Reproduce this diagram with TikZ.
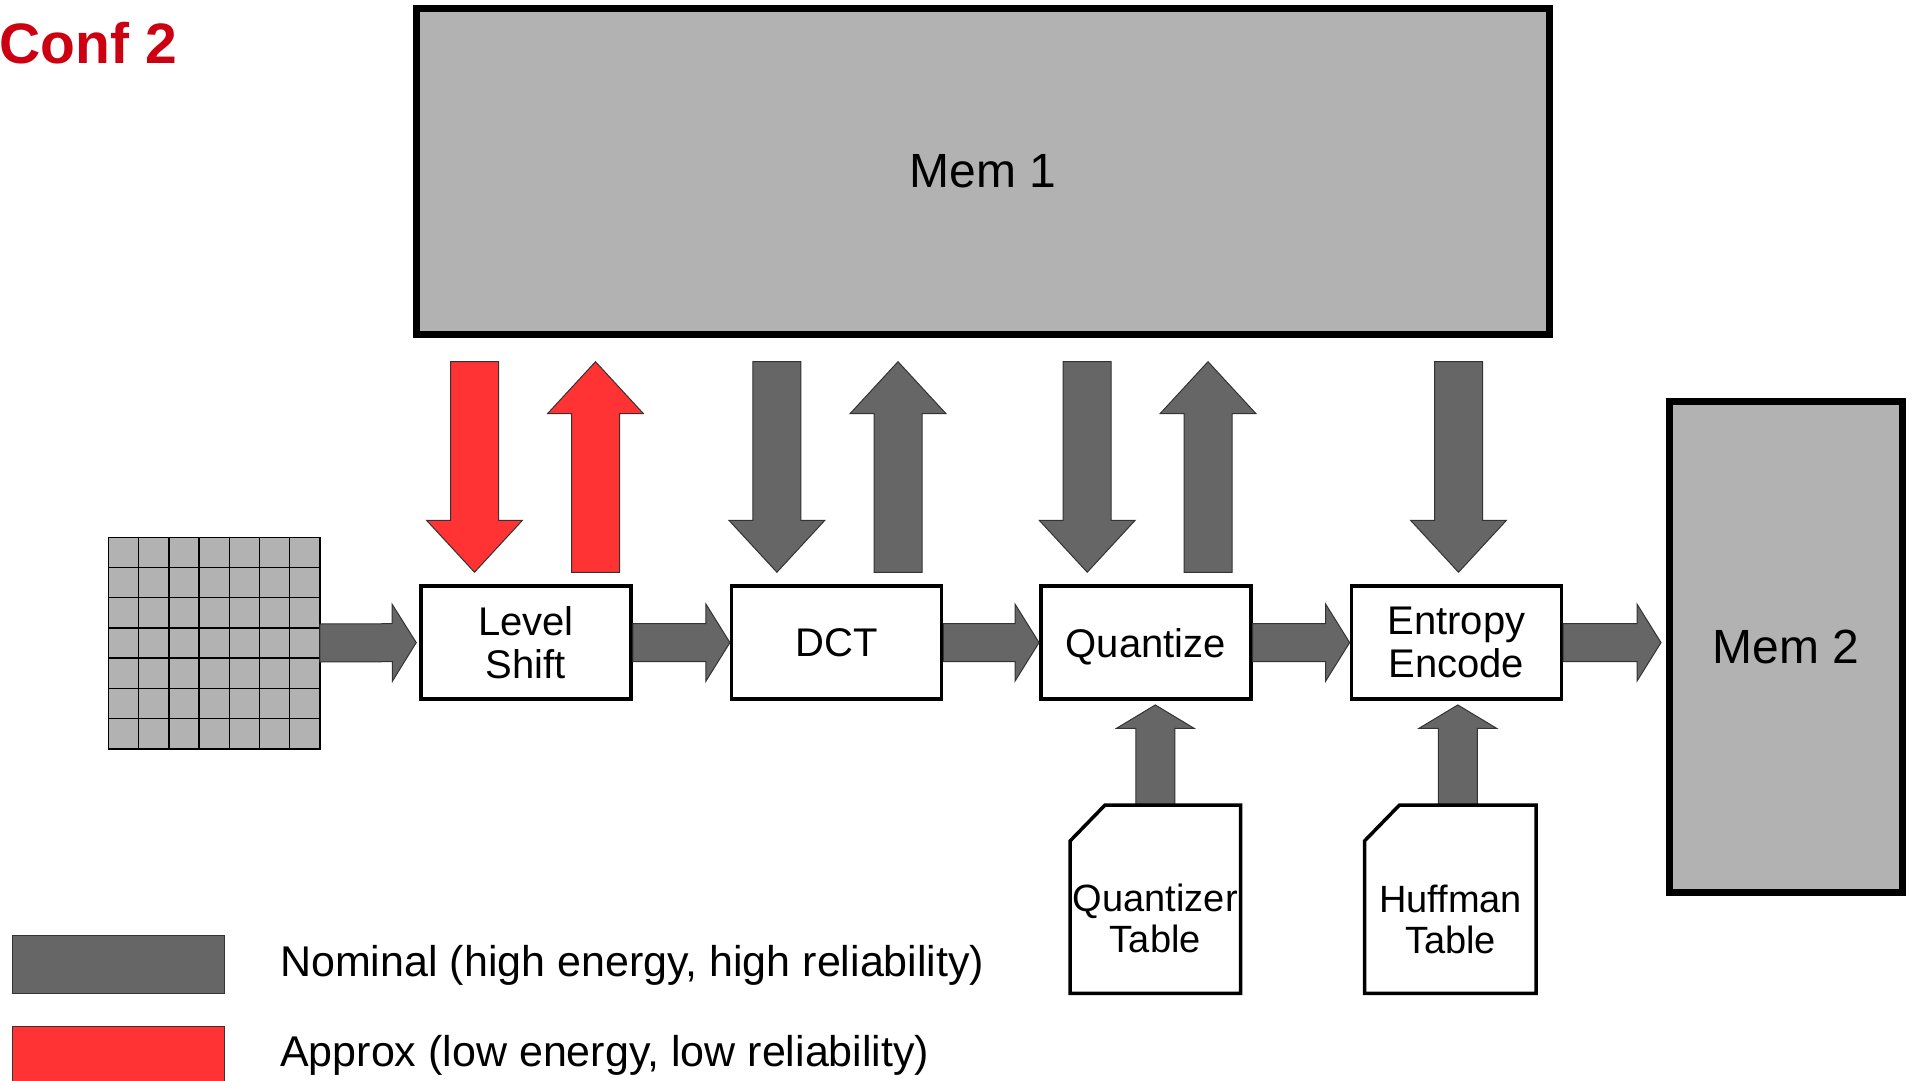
\documentclass[tikz,border=0pt]{standalone}
\usepackage{fontspec}
\setmainfont{Liberation Sans}
\usetikzlibrary{calc}
\definecolor{memgray}{HTML}{B2B2B2}
\definecolor{arrgray}{HTML}{666666}
\definecolor{arrred}{HTML}{FF3333}
\definecolor{confred}{HTML}{CC0011}

% block arrow: #1 style, #2 tail, #3 tip, #4 shaft half width, #5 head half width, #6 head length
\newcommand{\blockarrow}[6]{%
  \coordinate (bH) at ($(#3)!#6!(#2)$);
  \path[#1] ($(#2)!#4!90:(#3)$) -- ($(bH)!#4!90:(#3)$) -- ($(bH)!#5!90:(#3)$) -- (#3)
    -- ($(bH)!#5!-90:(#3)$) -- ($(bH)!#4!-90:(#3)$) -- ($(#2)!#4!-90:(#3)$) -- cycle;}

\tikzset{
  memstyle/.style={draw=black, line width=7pt, fill=memgray, inner sep=0pt,
    font=\fontsize{48}{52}\selectfont},
  procbox/.style={draw=black, line width=3.5pt, fill=white, minimum width=210pt,
    minimum height=113.2pt, inner sep=0pt, align=center, font=\fontsize{40}{43}\selectfont},
  tablebox/.style={draw=none, inner sep=0pt, outer sep=0pt, minimum height=188.3pt},
  tableline/.style={draw=black, line width=3.5pt, fill=white, line join=miter},
  tablelabel/.style={align=center, inner sep=0pt, font=\fontsize{38}{41}\selectfont},
  nomarrow/.style={fill=arrgray, draw=black!80, line width=1pt},
  aprarrow/.style={fill=arrred, draw=black!80, line width=1pt},
  legbox/.style={draw=black!80, line width=1pt, minimum width=211.7pt, minimum height=58.3pt, inner sep=0pt},
  legtext/.style={anchor=base west, inner sep=0pt, font=\fontsize{43}{50}\selectfont},
}

\begin{document}
\begin{tikzpicture}[x=1pt,y=-1pt]
\useasboundingbox (0,0) rectangle (1912,1081);

% title
\node[anchor=base west, inner sep=0pt, text=confred, font=\bfseries\fontsize{57}{60}\selectfont] (conf) at (-0.5,64) {Conf 2};

% memories
\node[memstyle, minimum width=1133.3pt, minimum height=326.3pt] (mem1) at (982.85,171.65) {Mem 1};
\node[memstyle, minimum width=233.5pt, minimum height=490.7pt] (mem2) at (1785.75,647.15) {Mem 2};

% input block grid
\node[fill=memgray, draw=none, minimum size=211.5pt, inner sep=0pt, outer sep=0pt] (grid) at (214.15,643) {};
\foreach \i in {1,...,6} {
  \draw[line width=1.5pt] ($(grid.north west)+(\i*30.214,0)$) -- ($(grid.south west)+(\i*30.214,0)$);
  \draw[line width=1.5pt] ($(grid.north west)+(0,\i*30.214)$) -- ($(grid.north east)+(0,\i*30.214)$);
}
\draw[line width=1.5pt] (grid.north west) rectangle (grid.south east);

% processing boxes
\node[procbox] (ls) at (526,642.6) {Level\\Shift};
\node[procbox] (dct) at (836.7,642.6) {DCT};
\node[procbox, text depth=0pt] (q) at (1145.8,642.6) {Quantize};
\node[procbox] (ee) at (1456.4,642.6) {Entropy\\Encode};

% horizontal pipeline arrows
\coordinate (lsin) at ($(ls.west)+(-3,0)$);
\coordinate (m2in) at ($(mem2.west |- ee.east)+(-4.5,0)$);
\blockarrow{nomarrow}{grid.east}{lsin}{19pt}{38.5pt}{24pt}
\blockarrow{nomarrow}{ls.east}{dct.west}{19pt}{38.5pt}{24pt}
\blockarrow{nomarrow}{dct.east}{q.west}{19pt}{38.5pt}{24pt}
\blockarrow{nomarrow}{q.east}{ee.west}{19pt}{38.5pt}{24pt}
\blockarrow{nomarrow}{ee.east}{m2in}{19pt}{38.5pt}{24pt}

% memory <-> box arrows
\coordinate (lsd-t) at ($(ls.north |- mem1.south)+(-51.5,23.4)$);
\coordinate (lsd-b) at ($(ls.north)+(-51.5,-12)$);
\coordinate (lsu-t) at ($(ls.north |- mem1.south)+(69.5,23.4)$);
\coordinate (lsu-b) at ($(ls.north)+(69.5,-12)$);
\coordinate (dd-t) at ($(dct.north |- mem1.south)+(-59.8,23.4)$);
\coordinate (dd-b) at ($(dct.north)+(-59.8,-12)$);
\coordinate (du-t) at ($(dct.north |- mem1.south)+(61.3,23.4)$);
\coordinate (du-b) at ($(dct.north)+(61.3,-12)$);
\coordinate (qd-t) at ($(q.north |- mem1.south)+(-58.6,23.4)$);
\coordinate (qd-b) at ($(q.north)+(-58.6,-12)$);
\coordinate (qu-t) at ($(q.north |- mem1.south)+(62.2,23.4)$);
\coordinate (qu-b) at ($(q.north)+(62.2,-12)$);
\coordinate (ed-t) at ($(ee.north |- mem1.south)+(2.1,23.4)$);
\coordinate (ed-b) at ($(ee.north)+(2.1,-12)$);

\blockarrow{aprarrow}{lsd-t}{lsd-b}{24pt}{48pt}{52pt}
\blockarrow{aprarrow}{lsu-b}{lsu-t}{24pt}{48pt}{52pt}
\blockarrow{nomarrow}{dd-t}{dd-b}{24pt}{48pt}{52pt}
\blockarrow{nomarrow}{du-b}{du-t}{24pt}{48pt}{52pt}
\blockarrow{nomarrow}{qd-t}{qd-b}{24pt}{48pt}{52pt}
\blockarrow{nomarrow}{qu-b}{qu-t}{24pt}{48pt}{52pt}
\blockarrow{nomarrow}{ed-t}{ed-b}{24pt}{48pt}{52pt}

% tables
\node[tablebox, minimum width=170.5pt] (qt) at (1155.3,899.15) {};
\node[tablebox, minimum width=171.5pt] (ht) at (1450.25,899.15) {};

\coordinate (qta) at (qt.north);
\coordinate (qtb) at ($(qt.north |- q.south)+(0,4)$);
\coordinate (hta) at ($(ht.north -| ee.south)+(1.4,0)$);
\coordinate (htb) at ($(ee.south)+(1.4,4)$);
\blockarrow{nomarrow}{qta}{qtb}{19.5pt}{38.7pt}{23.3pt}
\blockarrow{nomarrow}{hta}{htb}{19.5pt}{38.7pt}{23.3pt}

\draw[tableline] (qt.south west) -- ($(qt.north west)+(0,36)$) -- ($(qt.north west)+(35,0)$)
  -- (qt.north east) -- (qt.south east) -- cycle;
\draw[tableline] (ht.south west) -- ($(ht.north west)+(0,36)$) -- ($(ht.north west)+(35,0)$)
  -- (ht.north east) -- (ht.south east) -- cycle;
\node[tablelabel] (qtl) at (1155.3,918.8) {Quantizer\\Table};
\node[tablelabel] (htl) at (1450.5,919.5) {Huffman\\Table};

% legend
\node[legbox, fill=arrgray] (leg1) at (118.15,964.15) {};
\node[legbox, fill=arrred] (leg2) at (118.15,1055.15) {};
\node[legtext] (leg1t) at (280,976) {Nominal (high energy, high reliability)};
\node[legtext] (leg2t) at (280,1066.7) {Approx (low energy, low reliability)};
\end{tikzpicture}
\end{document}
